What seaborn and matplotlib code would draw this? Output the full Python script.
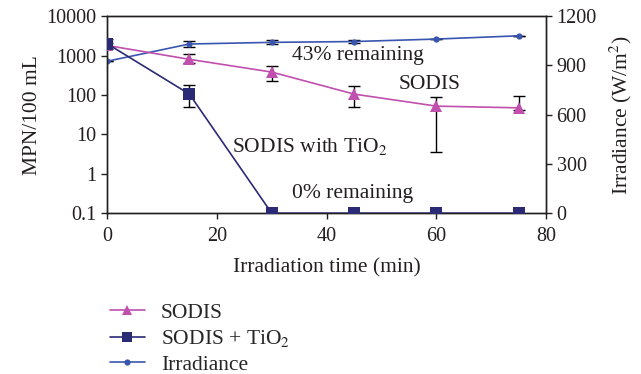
import numpy as np
import pandas as pd
import matplotlib
matplotlib.use("Agg")
import matplotlib.pyplot as plt
import seaborn as sns
from matplotlib.ticker import FixedLocator, FixedFormatter, NullLocator
from matplotlib.lines import Line2D

sns.set_style("ticks")
plt.rcParams['font.family'] = ['Liberation Serif', 'DejaVu Serif']
plt.rcParams['mathtext.fontset'] = 'stix'

time = [0, 15, 30, 45, 60, 75]
sodis = [1800, 800, 380, 105, 52, 47]
sodis_lo = [1500, 640, 224, 49, 3.5, 41]
sodis_hi = [2100, 1085, 540, 167, 88, 93]
tio2 = [2000, 105, 0.1, 0.1, 0.1, 0.1]
tio2_lo = [1630, 49, 0.1, 0.1, 0.1, 0.1]
tio2_hi = [2600, 178, 0.1, 0.1, 0.1, 0.1]
irr = [925, 1030, 1040, 1045, 1060, 1080]
irr_err = [0, 18, 12, 8, 0, 0]

c_sodis = "#C04FAE"
c_tio2 = "#2B2A74"
c_irr = "#3A55B0"
c_txt = "#231F20"

fig = plt.figure(figsize=(6.41, 3.74), dpi=100)
ax = fig.add_axes([0.167, 0.430, 0.685, 0.527])
ax2 = ax.twinx()

df = pd.DataFrame({"time": time, "sodis": sodis, "tio2": tio2, "irr": irr})

sns.lineplot(data=df, x="time", y="sodis", ax=ax, color=c_sodis, marker="^",
             markersize=8, markeredgewidth=0, lw=1.2, zorder=3)
sns.lineplot(data=df, x="time", y="tio2", ax=ax, color=c_tio2, marker="s",
             markersize=8.5, markeredgewidth=0, lw=1.2, zorder=4)
sns.lineplot(data=df, x="time", y="irr", ax=ax2, color=c_irr, marker="o",
             markersize=4.5, markeredgewidth=0, lw=1.2, zorder=3)

s = np.array(sodis); t = np.array(tio2)
ax.errorbar(time, sodis, yerr=[s - np.array(sodis_lo), np.array(sodis_hi) - s],
            fmt="none", ecolor="black", elinewidth=1, capsize=4, capthick=1, zorder=2)
ax.errorbar(time[:2], tio2[:2], yerr=[(t - np.array(tio2_lo))[:2], (np.array(tio2_hi) - t)[:2]],
            fmt="none", ecolor="black", elinewidth=1, capsize=4, capthick=1, zorder=2)
ax2.errorbar(time, irr, yerr=irr_err, fmt="none", ecolor="black", elinewidth=1,
             capsize=4, capthick=1, zorder=2)

fs_tick = 14.5
fs = 15.5
ax.set_yscale("log")
ax.set_ylim(0.1, 10000)
ax.set_xlim(0, 80)
yt = [0.1, 1, 10, 100, 1000, 10000]
ax.yaxis.set_major_locator(FixedLocator(yt))
ax.yaxis.set_major_formatter(FixedFormatter(["0.1", "1", "10", "100", "1000", "10000"]))
ax.yaxis.set_minor_locator(NullLocator())
ax.set_xticks([0, 20, 40, 60, 80])
ax2.set_ylim(0, 1200)
ax2.set_yticks([0, 300, 600, 900, 1200])

ax.set_xlabel("Irradiation time (min)", fontsize=fs, color=c_txt, labelpad=9)
ax.set_ylabel("MPN/100 mL", fontsize=fs, color=c_txt, labelpad=3)
ax2.set_ylabel("Irradiance (W/m$^2$)", fontsize=fs, color=c_txt, labelpad=8)
for a in (ax, ax2):
    a.tick_params(labelsize=fs_tick, colors=c_txt, direction="out", length=4, width=1)
    for sp in a.spines.values():
        sp.set_visible(True)
        sp.set_color(c_txt)
        sp.set_linewidth(1)
ax.tick_params(axis="x", pad=6)

ax.text(0.571, 0.80, "43% remaining", transform=ax.transAxes, fontsize=fs,
        ha="center", va="center", color=c_txt)
ax.text(0.735, 0.655, "SODIS", transform=ax.transAxes, fontsize=fs,
        ha="center", va="center", color=c_txt)
ax.text(0.462, 0.34, "SODIS with TiO$_2$", transform=ax.transAxes, fontsize=fs,
        ha="center", va="center", color=c_txt)
ax.text(0.56, 0.10, "0% remaining", transform=ax.transAxes, fontsize=fs,
        ha="center", va="center", color=c_txt)

handles = [
    Line2D([], [], color=c_sodis, marker="^", markersize=7, markeredgewidth=0, lw=1.2),
    Line2D([], [], color=c_tio2, marker="s", markersize=7, markeredgewidth=0, lw=1.2),
    Line2D([], [], color=c_irr, marker="o", markersize=4.5, markeredgewidth=0, lw=1.2),
]
fig.legend(handles, ["SODIS", "SODIS + TiO$_2$", "Irradiance"], loc="upper left",
           bbox_to_anchor=(0.172, 0.19), frameon=False, fontsize=fs, handlelength=1.6,
           labelspacing=0.25, handletextpad=0.75, borderaxespad=0, borderpad=0)
ax.set_zorder(ax2.get_zorder() + 1)
ax.patch.set_visible(False)

fig.savefig("out.png", dpi=100)
